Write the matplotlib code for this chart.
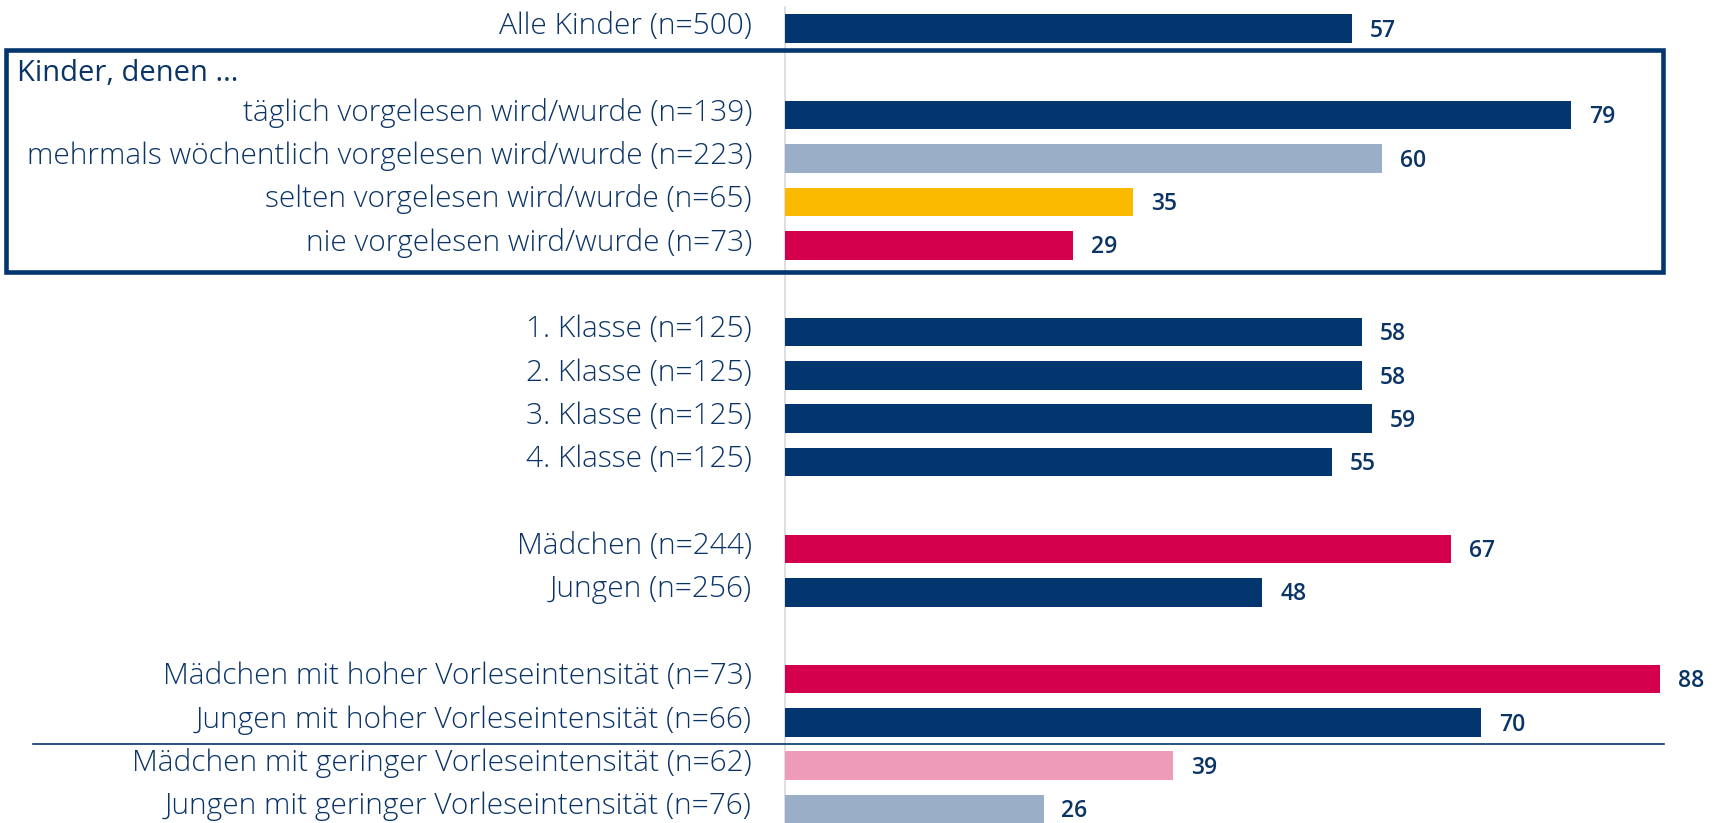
import matplotlib
matplotlib.use("Agg")
import matplotlib.pyplot as plt
from matplotlib.patches import Rectangle

# ---- data ----
labels_all = ["Alle Kinder (n=500)"]
header = "Kinder, denen ..."
labels_vorlesen = ["täglich vorgelesen wird/wurde (n=139)",
                   "mehrmals wöchentlich vorgelesen wird/wurde (n=223)",
                   "selten vorgelesen wird/wurde (n=65)",
                   "nie vorgelesen wird/wurde (n=73)"]
labels_klasse = ["1. Klasse (n=125)", "2. Klasse (n=125)",
                 "3. Klasse (n=125)", "4. Klasse (n=125)"]
labels_geschlecht = ["Mädchen (n=244)", "Jungen (n=256)"]
labels_intens = ["Mädchen mit hoher Vorleseintensität (n=73)",
                 "Jungen mit hoher Vorleseintensität (n=66)",
                 "Mädchen mit geringer Vorleseintensität (n=62)",
                 "Jungen mit geringer Vorleseintensität (n=76)"]

values_all = [57]
values_vorlesen = [79, 60, 35, 29]
values_klasse = [58, 58, 59, 55]
values_geschlecht = [67, 48]
values_intens = [88, 70, 39, 26]

NAVY = "#03366F"
GREY = "#9AAFC7"
YELLOW = "#FBBA00"
RED = "#D4004E"
PINK = "#EE9AB9"
colors_all = [NAVY]
colors_vorlesen = [NAVY, GREY, YELLOW, RED]
colors_klasse = [NAVY, NAVY, NAVY, NAVY]
colors_geschlecht = [RED, NAVY]
colors_intens = [RED, NAVY, PINK, GREY]

# ---- layout ----
groups = [
    (labels_all, values_all, colors_all, False),
    (labels_vorlesen, values_vorlesen, colors_vorlesen, True),
    (labels_klasse, values_klasse, colors_klasse, False),
    (labels_geschlecht, values_geschlecht, colors_geschlecht, False),
    (labels_intens, values_intens, colors_intens, False),
]

labels, values, colors, pos = [], [], [], []
row = 0
header_row = None
box_rows = None
for gi, (lab, val, col, has_header) in enumerate(groups):
    if gi > 0 and not has_header:
        row += 1  # blank gap row
    if has_header:
        header_row = row
        row += 1
    for l, v, c in zip(lab, val, col):
        labels.append(l); values.append(v); colors.append(c); pos.append(row)
        row += 1
    if has_header:
        box_rows = (header_row, row - 1)

W, H = 1715, 823
fig = plt.figure(figsize=(W / 100, H / 100), dpi=100)
ax = fig.add_axes([0, 0, 1, 1])
ax.set_axis_off()

ax.set_xlim(-78.9, 93.5)
ax.set_ylim(18.32, -0.655)

FONT = ["Open Sans", "DejaVu Sans"]
TXT = "#0B3466"

ax.barh(pos, values, height=0.66, color=colors, zorder=2)

# vertical axis line
ax.plot([0, 0], [-0.5, 18.5], color="#D9D9D9", lw=1.2, zorder=1)

for p, l, v in zip(pos, labels, values):
    ax.text(-3.3, p - 0.06, l, ha="right", va="center", fontsize=21.5,
            color=TXT, family=FONT, fontweight="light")
    ax.text(v + 1.8, p + 0.05, str(v), ha="left", va="center", fontsize=16.5,
            color=TXT, family=FONT, fontweight="semibold")

# header
ax.text(-77.2, header_row + 0.05, header, ha="left", va="center", fontsize=21,
        color=TXT, family=FONT, fontweight="normal")

# box around the Vorlesen group
r0, r1 = box_rows
ax.add_patch(Rectangle((-78.3, r0 - 0.5), 88.3 + 78.3, (r1 + 0.62) - (r0 - 0.5),
                       fill=False, edgecolor=NAVY, lw=3.3, zorder=3))

# separator line between high and low intensity
sep = (pos[-3] + pos[-2]) / 2
ax.plot([-75.6, 88.4], [sep, sep], color=NAVY, lw=1.2, zorder=3)

fig.savefig("out.png", dpi=100)
